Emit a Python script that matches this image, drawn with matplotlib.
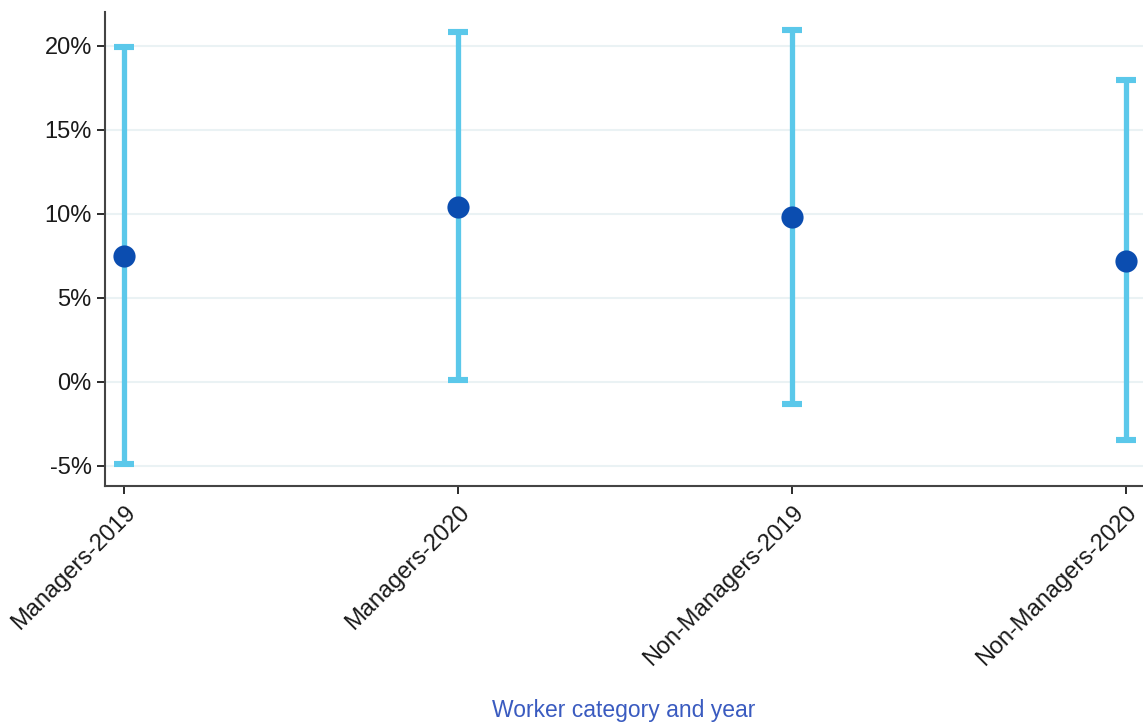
import matplotlib
matplotlib.use('Agg')
import numpy as np
import matplotlib.pyplot as plt
from matplotlib.ticker import FuncFormatter

plt.rcParams['font.family'] = ['Liberation Sans', 'DejaVu Sans']

# data (percent)
categories = ['Managers-2019', 'Managers-2020', 'Non-Managers-2019', 'Non-Managers-2020']
estimate = [7.5, 10.4, 9.8, 7.2]
upper = [19.95, 20.8, 20.95, 17.95]
lower = [-4.9, 0.1, -1.3, -3.45]

bar_col = '#5BC8EA'
pt_col = '#0B4DB0'

fig = plt.figure(figsize=(11.43, 7.22), dpi=100)
ax = fig.add_axes([0.0919, 0.327, 0.9081, 0.656])

x = np.arange(len(categories))
est = np.array(estimate)
yerr = np.vstack([est - np.array(lower), np.array(upper) - est])
_, caps, _ = ax.errorbar(x, est, yerr=yerr, fmt='none', ecolor=bar_col, elinewidth=3.8,
                         capsize=7, capthick=4.4, zorder=2)
for c in caps:
    c.set_solid_capstyle('round')
ax.scatter(x, est, s=255, color=pt_col, zorder=3, linewidths=0)

ax.set_xlim(-0.057, 3.051)
ax.set_ylim(-6.2, 22.0)
ax.set_yticks([-5, 0, 5, 10, 15, 20])
ax.yaxis.set_major_formatter(FuncFormatter(lambda v, p: '%d%%' % v))
ax.grid(axis='y', color='#EAF2F4', linewidth=1.5, zorder=0)
ax.set_axisbelow(True)

ax.set_xticks(x)
ax.set_xticklabels(categories, rotation=45, ha='right', rotation_mode='anchor')
ax.tick_params(axis='both', labelsize=17, colors='#1a1a1a', length=6, width=1.3)
ax.tick_params(axis='x', pad=5)

for s in ['top', 'right']:
    ax.spines[s].set_visible(False)
for s in ['left', 'bottom']:
    ax.spines[s].set_color('#444444')
    ax.spines[s].set_linewidth(1.5)

fig.text(0.546, 0.016, 'Worker category and year', ha='center', va='center',
         fontsize=16.5, color='#3A5BC0')

fig.savefig('out.png', dpi=100)
plt.close()
